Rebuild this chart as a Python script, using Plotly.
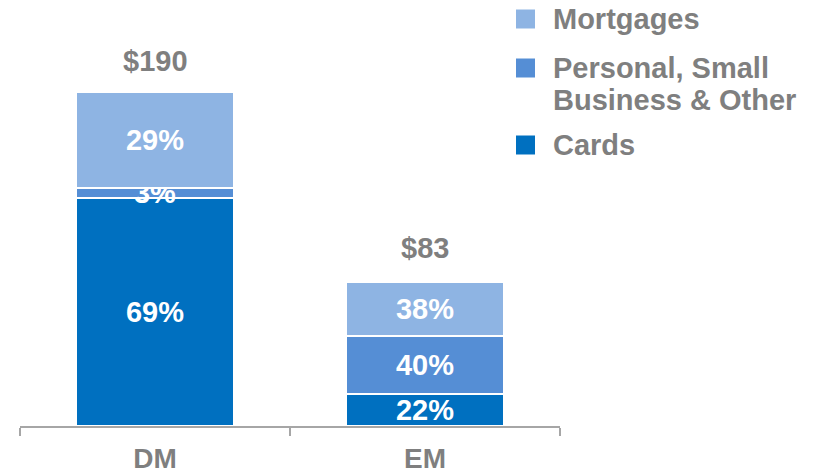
import plotly.graph_objects as go

categories = ["DM", "EM"]
totals = [190, 83]
total_labels = ["$190", "$83"]
series_names = ["Cards", "Personal, Small Business & Other", "Mortgages"]
series_pct = {
    "Cards": [69, 22],
    "Personal, Small Business & Other": [3, 40],
    "Mortgages": [29, 38],
}
colors = {
    "Cards": "#0070C0",
    "Personal, Small Business & Other": "#558ED5",
    "Mortgages": "#8EB4E3",
}
legend_lines = {
    "Mortgages": ["Mortgages"],
    "Personal, Small Business & Other": ["Personal, Small", "Business & Other"],
    "Cards": ["Cards"],
}

W, H = 819, 475
# on-screen plot area: x 20..560, y 78..426
L = 20
R = W - 560
T = 78
B = H - 426
FONT = "Liberation Sans, Arial, sans-serif"
GRAY = "#7F7F7F"
FS = 29

def px_x(px):
    return (px - L) / (W - L - R)

def px_y(py):
    return (H - B - py) / (H - T - B)

fig = go.Figure()
for name in series_names:
    vals = [t * p / 100 for t, p in zip(totals, series_pct[name])]
    fig.add_trace(go.Bar(
        x=categories, y=vals, name=name,
        marker=dict(color=colors[name], line=dict(color="white", width=2)),
        text=[f"{p}%" for p in series_pct[name]],
        textposition="inside", insidetextanchor="middle",
        constraintext="none",
        textfont=dict(family=FONT, size=FS, color="white", weight="bold"),
        width=0.585, showlegend=False,
    ))

annotations = []
for c, t, lab in zip(categories, totals, total_labels):
    annotations.append(dict(
        x=c, y=t, xref="x", yref="y", text=lab, showarrow=False,
        yanchor="bottom", yshift=16,
        font=dict(family=FONT, size=FS, color=GRAY, weight="bold"),
    ))

shapes = []
legend_pos = {"Mortgages": (19, [19]),
              "Personal, Small Business & Other": (68, [68, 100]),
              "Cards": (145, [145])}
for name in ["Mortgages", "Personal, Small Business & Other", "Cards"]:
    sy, line_ys = legend_pos[name]
    shapes.append(dict(type="rect", xref="paper", yref="paper",
                       x0=px_x(516), x1=px_x(535), y0=px_y(sy + 9.5), y1=px_y(sy - 9.5),
                       fillcolor=colors[name], line=dict(width=0)))
    for line, ly in zip(legend_lines[name], line_ys):
        annotations.append(dict(
            x=px_x(551), y=px_y(ly), xref="paper", yref="paper", text=line,
            showarrow=False, xanchor="left", yanchor="middle", align="left",
            font=dict(family=FONT, size=FS, color=GRAY, weight="bold"),
        ))

fig.update_layout(
    barmode="stack",
    width=W, height=H,
    margin=dict(l=L, r=R, t=T, b=B, autoexpand=False),
    plot_bgcolor="white", paper_bgcolor="white",
    showlegend=False,
    annotations=annotations, shapes=shapes,
    xaxis=dict(
        automargin=False,
        showline=True, linecolor="#A6A6A6", linewidth=1.5,
        ticks="outside", tickson="boundaries", ticklen=8, tickcolor="#A6A6A6", tickwidth=1.5,
        tickfont=dict(family=FONT, size=28, color=GRAY, weight="bold"),
        ticklabelstandoff=7,
        showgrid=False,
    ),
    yaxis=dict(automargin=False, range=[0, 200], visible=False, showgrid=False, zeroline=False),
)

fig.write_html("out.html", config={"displayModeBar": False},
               post_script="document.body.style.margin='0';document.body.style.overflow='hidden';")
